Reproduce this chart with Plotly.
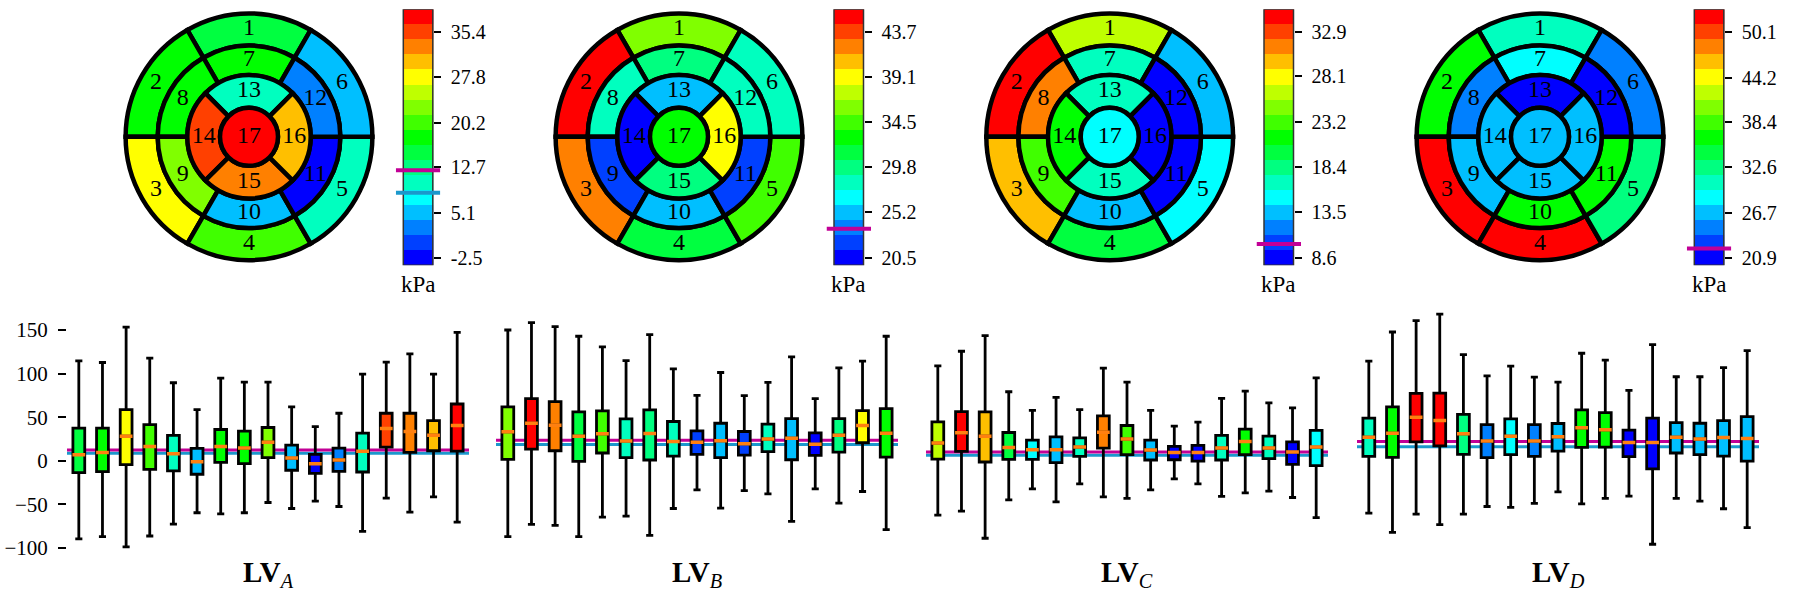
import plotly.graph_objects as go

W, H = 1800, 600
FONT = "Liberation Serif"

# ---------------- data ----------------
panel_names = ["A", "B", "C", "D"]
segment_labels = [str(i) for i in range(1, 18)]

# mean segment values (kPa)
seg_A = [15.2, 17.7, 27.8, 20.3, 10.1, 5.1, 17.7, 17.7, 22.8, 5.1, -2.5, 2.6, 10.1, 35.4, 32.9, 30.4, 37.9]
seg_B = [36.0, 45.3, 42.2, 31.3, 34.4, 28.2, 29.8, 28.2, 22.1, 25.1, 22.1, 28.2, 25.1, 20.5, 29.8, 39.1, 32.9]
seg_C = [26.4, 34.5, 29.7, 19.9, 15.1, 13.5, 16.7, 31.3, 23.2, 13.5, 8.6, 8.6, 16.7, 21.6, 16.7, 8.6, 15.1]
seg_D = [30.6, 36.5, 52.1, 52.1, 32.6, 24.8, 28.7, 24.8, 26.8, 36.5, 36.5, 20.9, 20.9, 26.8, 26.8, 26.8, 26.8]

# colour-bar limits and tick labels
cbar_min = [-3.76, 19.73, 7.79, 19.93]
cbar_max = [39.20, 46.03, 35.33, 53.03]
cbar_ticks_A = ["-2.5", "5.1", "12.7", "20.2", "27.8", "35.4"]
cbar_ticks_B = ["20.5", "25.2", "29.8", "34.5", "39.1", "43.7"]
cbar_ticks_C = ["8.6", "13.5", "18.4", "23.2", "28.1", "32.9"]
cbar_ticks_D = ["20.9", "26.7", "32.6", "38.4", "44.2", "50.1"]

# reference levels (kPa)
ref_magenta = [12.2, 23.5, 10.1, 22.1]
ref_blue = [8.4, 18.7, 6.1, 16.0]

# box statistics per segment
A_hi = [114.7, 112.8, 153.5, 117.7, 89.5, 58.7, 94.9, 90.3, 90.3, 61.7, 39.2, 54.5, 99.4, 113.1, 122.7, 99.4, 147.4]
A_q3 = [37.3, 37.3, 58.7, 41.5, 29.0, 14.1, 35.8, 33.9, 38.1, 17.9, 7.2, 14.5, 31.6, 54.5, 54.5, 46.1, 65.1]
A_med = [6.9, 9.5, 28.2, 16.4, 8.0, -1.1, 16.4, 14.5, 21.3, 3.0, -3.4, 0.8, 10.7, 37.0, 33.5, 29.3, 40.4]
A_q1 = [-13.7, -12.6, -4.6, -9.9, -11.8, -15.6, -1.9, -3.4, 3.4, -11.0, -14.5, -12.2, -13.0, 15.6, 9.5, 11.4, 11.0]
A_lo = [-89.9, -87.2, -99.0, -86.5, -72.8, -59.8, -61.0, -59.8, -48.0, -54.9, -46.5, -52.6, -81.1, -43.0, -59.0, -41.5, -70.5]

B_hi = [150.1, 158.5, 153.9, 142.9, 130.7, 115.0, 144.8, 105.5, 75.0, 101.3, 74.7, 89.9, 119.2, 71.2, 106.7, 114.3, 142.9]
B_q3 = [61.7, 71.2, 67.8, 56.0, 57.1, 48.0, 58.3, 45.0, 34.3, 43.0, 33.5, 41.9, 48.4, 32.0, 48.4, 57.5, 59.8]
B_med = [33.1, 43.0, 40.8, 28.2, 30.9, 22.5, 31.2, 22.1, 21.3, 22.9, 19.4, 24.8, 25.9, 19.0, 29.3, 40.4, 31.6]
B_q1 = [1.5, 13.3, 11.4, -0.8, 8.8, 3.4, 0.8, 5.3, 7.2, 3.4, 6.5, 10.3, 1.1, 6.1, 9.9, 20.6, 4.2]
B_lo = [-87.2, -73.1, -74.3, -87.2, -64.8, -63.6, -85.7, -54.9, -33.5, -54.5, -34.3, -38.1, -69.7, -32.4, -48.8, -35.4, -79.2]

C_hi = [109.0, 125.7, 143.6, 79.2, 57.9, 72.8, 58.7, 106.3, 90.3, 57.9, 39.6, 44.2, 71.6, 80.0, 66.3, 60.6, 95.2]
C_q3 = [44.6, 56.4, 56.0, 32.4, 23.6, 27.4, 26.3, 51.4, 40.4, 23.6, 16.4, 17.5, 29.0, 36.2, 28.2, 21.7, 34.7]
C_med = [20.2, 32.0, 28.2, 15.2, 12.6, 12.6, 15.6, 32.8, 24.8, 12.2, 9.5, 9.5, 14.5, 22.1, 14.5, 9.9, 15.6]
C_q1 = [1.9, 10.7, -1.5, 1.5, 1.5, -2.3, 5.0, 14.5, 6.9, 0.8, 1.1, -0.4, 0.8, 6.9, 2.3, -4.2, -5.7]
C_lo = [-62.5, -57.9, -89.1, -45.0, -32.4, -47.2, -26.7, -41.5, -43.4, -33.5, -21.0, -26.7, -41.1, -37.0, -35.0, -42.3, -65.5]

D_hi = [114.3, 147.8, 160.8, 168.4, 121.9, 97.5, 108.6, 96.0, 90.3, 123.4, 115.4, 80.8, 133.3, 96.4, 96.4, 107.0, 126.5]
D_q3 = [48.8, 61.7, 77.3, 77.7, 53.3, 41.5, 48.0, 41.5, 42.7, 58.3, 55.2, 35.0, 48.8, 43.8, 43.0, 46.1, 50.7]
D_med = [27.0, 31.6, 49.9, 46.1, 30.9, 22.5, 28.2, 22.5, 27.4, 37.7, 35.4, 21.0, 21.0, 27.0, 24.8, 26.7, 25.5]
D_q1 = [5.0, 3.8, 21.7, 17.1, 7.2, 3.4, 6.9, 5.0, 11.0, 15.2, 15.6, 4.6, -9.5, 8.8, 6.9, 5.3, -0.4]
D_lo = [-60.2, -82.3, -61.3, -73.5, -61.3, -52.6, -53.7, -49.1, -35.8, -49.5, -43.4, -40.8, -96.0, -43.4, -46.5, -55.2, -77.0]

box_y_ticks = [-100, -50, 0, 50, 100, 150]

# ---------------- style ----------------
palette = ["#0000ff", "#0040ff", "#0080ff", "#00bfff", "#00ffff", "#00ffbf", "#00ff80",
           "#00ff40", "#00ff00", "#40ff00", "#80ff00", "#bfff00", "#ffff00", "#ffbf00",
           "#ff8000", "#ff4000", "#ff0000"]
NB = len(palette)
cscale = []
for i, c in enumerate(palette):
    cscale.append([i / NB, c])
    cscale.append([(i + 1) / NB, c])

MAGENTA = "#c20096"
BLUE = "#1b98cc"
ORANGE = "#ff8010"

segs = [seg_A, seg_B, seg_C, seg_D]
cticks = [cbar_ticks_A, cbar_ticks_B, cbar_ticks_C, cbar_ticks_D]
stats = [(A_lo, A_q1, A_med, A_q3, A_hi), (B_lo, B_q1, B_med, B_q3, B_hi),
         (C_lo, C_q1, C_med, C_q3, C_hi), (D_lo, D_q1, D_med, D_q3, D_hi)]

# layout geometry (pixels)
circle_cx = [249, 679, 1109.7, 1540]
circle_cy = 137.5
R_px = 124.0
RMAX = 1.03
ring_r = [0.0, 0.235, 0.5, 0.74, 1.0]
cb_left = [403.3, 834.0, 1264.0, 1694.3]
cb_w = 29.5
cb_top, cb_bot = 9.3, 266.7
cb_over = 7.5
box_left = [67, 496, 926, 1357]
box_w = 402
box_top_px, box_bot_px = 300.0, 560.0
px_per_unit = 0.875
zero_px = 463.0
y_top = (zero_px - box_top_px) / px_per_unit
y_bot = (zero_px - box_bot_px) / px_per_unit


def px_x(x):
    return x / W


def px_y(y):
    return 1 - y / H


def color_of(v, vmin, vmax):
    k = int((v - vmin) / (vmax - vmin) * NB)
    return palette[max(0, min(NB - 1, k))]


fig = go.Figure()
layout = dict(width=W, height=H, margin=dict(l=0, r=0, t=0, b=0),
              paper_bgcolor="white", plot_bgcolor="white", showlegend=False,
              boxmode="overlay", font=dict(family=FONT, color="black"))
shapes = []
annotations = []

# AHA 17 segment layout: ring, angular centre, angular width
seg_ring, seg_theta, seg_width = [], [], []
for i in range(17):
    if i < 6:
        seg_ring.append(3); seg_theta.append(90 + 60 * i); seg_width.append(60)
    elif i < 12:
        seg_ring.append(2); seg_theta.append(90 + 60 * (i - 6)); seg_width.append(60)
    elif i < 16:
        seg_ring.append(1); seg_theta.append(90 + 90 * (i - 12)); seg_width.append(90)
    else:
        seg_ring.append(0); seg_theta.append(0); seg_width.append(360)

for p in range(4):
    vals = segs[p]
    vmin, vmax = cbar_min[p], cbar_max[p]
    pk = "polar" if p == 0 else f"polar{p + 1}"
    base = [ring_r[r] for r in seg_ring]
    thick = [ring_r[r + 1] - ring_r[r] for r in seg_ring]
    fig.add_trace(go.Barpolar(
        r=thick, base=base, theta=seg_theta, width=seg_width,
        marker=dict(color=vals, colorscale=cscale, cmin=vmin, cmax=vmax,
                    line=dict(color="black", width=4.5)),
        subplot=pk, hoverinfo="skip", showlegend=False))
    lab_r = [0 if r == 0 else (ring_r[r] + ring_r[r + 1]) / 2 for r in seg_ring]
    fig.add_trace(go.Scatterpolar(
        r=lab_r, theta=seg_theta, text=segment_labels, mode="text",
        textfont=dict(family=FONT, size=24, color="black"),
        subplot=pk, hoverinfo="skip", showlegend=False))
    cx = circle_cx[p]
    half = R_px * RMAX
    layout[pk] = dict(
        domain=dict(x=[px_x(cx - half), px_x(cx + half)],
                    y=[px_y(circle_cy + half), px_y(circle_cy - half)]),
        radialaxis=dict(range=[0, RMAX], visible=False),
        angularaxis=dict(visible=False, direction="counterclockwise", rotation=0),
        bgcolor="rgba(0,0,0,0)", barmode="overlay", hole=0)

    # ---- colour bar as a heatmap subplot ----
    xi = 5 + p
    step = (vmax - vmin) / NB
    centers = [vmin + (k + 0.5) * step for k in range(NB)]
    fig.add_trace(go.Heatmap(
        z=[[c] for c in centers], x=[0], y=centers, colorscale=cscale,
        zmin=vmin, zmax=vmax, showscale=False, hoverinfo="skip",
        xaxis=f"x{xi}", yaxis=f"y{xi}"))
    l = cb_left[p]
    layout[f"xaxis{xi}"] = dict(
        domain=[px_x(l - cb_over), px_x(l + cb_w + cb_over)],
        range=[-0.5 - cb_over / cb_w, 0.5 + cb_over / cb_w],
        visible=False, anchor=f"y{xi}", fixedrange=True)
    layout[f"yaxis{xi}"] = dict(
        domain=[px_y(cb_bot), px_y(cb_top)], range=[vmin, vmax],
        anchor="free", position=px_x(l + cb_w), side="right",
        tickvals=[float(t) for t in cticks[p]], ticktext=cticks[p],
        ticks="outside", ticklen=7, tickwidth=1.5, tickcolor="black",
        showgrid=False, zeroline=False, showline=False,
        tickfont=dict(family=FONT, size=20, color="black"), ticklabelstandoff=6)
    shapes.append(dict(type="rect", xref=f"x{xi}", yref=f"y{xi}", x0=-0.5, x1=0.5,
                       y0=vmin, y1=vmax, line=dict(color="#333333", width=1.5)))
    for val, col in ((ref_magenta[p], MAGENTA), (ref_blue[p], BLUE)):
        if vmin <= val <= vmax:
            shapes.append(dict(type="line", xref=f"x{xi}", yref=f"y{xi}",
                               x0=-0.5 - cb_over / cb_w, x1=0.5 + cb_over / cb_w,
                               y0=val, y1=val, line=dict(color=col, width=4)))
    annotations.append(dict(text="kPa", xref=f"x{xi} domain", x=0.5, yref="paper",
                            y=px_y(cb_bot + 5), yanchor="top", xanchor="center",
                            showarrow=False, font=dict(family=FONT, size=23, color="black")))

    # ---- box plots ----
    bi = p + 1
    xa = "x" if bi == 1 else f"x{bi}"
    ya = "y" if bi == 1 else f"y{bi}"
    lo, q1, med, q3, hi = stats[p]
    for k in range(17):
        fig.add_trace(go.Box(
            x=[k + 1], q1=[q1[k]], median=[med[k]], q3=[q3[k]],
            lowerfence=[lo[k]], upperfence=[hi[k]], width=0.5,
            fillcolor=color_of(vals[k], vmin, vmax),
            line=dict(color="black", width=2.8), whiskerwidth=0.6,
            boxpoints=False, orientation="v", hoverinfo="skip",
            xaxis=xa, yaxis=ya, showlegend=False))
        fig.add_trace(go.Box(
            x=[k + 1], q1=[med[k]], median=[med[k]], q3=[med[k]],
            lowerfence=[med[k]], upperfence=[med[k]], width=0.54,
            fillcolor="rgba(0,0,0,0)", line=dict(color=ORANGE, width=3.5),
            whiskerwidth=0, boxpoints=False, orientation="v", hoverinfo="skip",
            xaxis=xa, yaxis=ya, showlegend=False))
    xk = "xaxis" if bi == 1 else f"xaxis{bi}"
    yk = "yaxis" if bi == 1 else f"yaxis{bi}"
    layout[xk] = dict(domain=[px_x(box_left[p]), px_x(box_left[p] + box_w)],
                      range=[0.5, 17.5], visible=False, anchor=ya)
    ycfg = dict(domain=[px_y(box_bot_px), px_y(box_top_px)], range=[y_bot, y_top],
                anchor=xa, showgrid=False, zeroline=False, showline=False)
    if p == 0:
        ycfg.update(tickvals=box_y_ticks, ticks="outside", ticklen=8, tickwidth=1.5,
                    tickcolor="black", tickfont=dict(family=FONT, size=21, color="black"),
                    ticklabelstandoff=6)
    else:
        ycfg.update(showticklabels=False, ticks="")
    layout[yk] = ycfg
    for val, col in ((ref_blue[p], BLUE), (ref_magenta[p], MAGENTA)):
        shapes.append(dict(type="line", xref=f"{xa} domain", yref=ya, x0=0, x1=1,
                           y0=val, y1=val, layer="below", line=dict(color=col, width=3)))
    annotations.append(dict(text=f"<b>LV</b><sub><i>{panel_names[p]}</i></sub>",
                            xref=f"{xa} domain", x=0.5, yref="paper", y=px_y(577),
                            xanchor="center", yanchor="middle", showarrow=False,
                            font=dict(family=FONT, size=29, color="black")))

layout["shapes"] = shapes
layout["annotations"] = annotations
fig.update_layout(**layout)
fig.write_html("out.html")
